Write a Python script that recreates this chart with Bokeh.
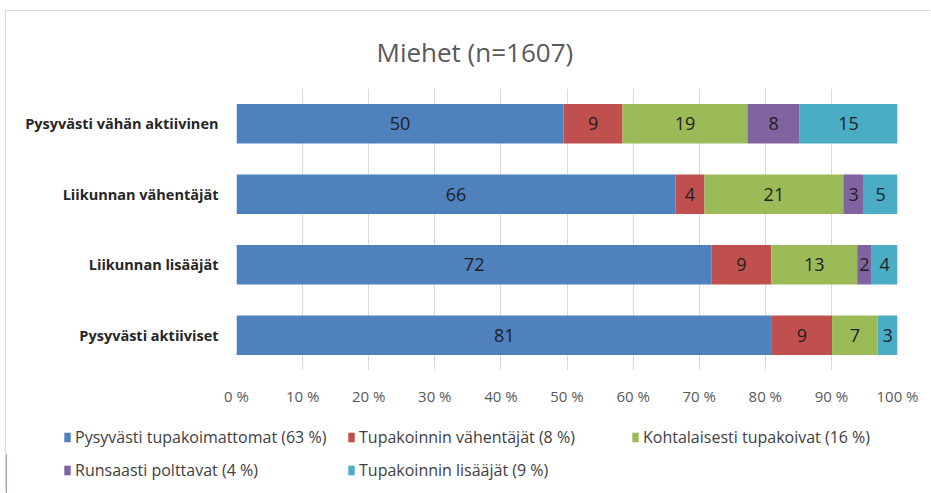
from bokeh.plotting import figure
from bokeh.layouts import column
from bokeh.models import FactorRange, Range1d, ColumnDataSource, Legend, LegendItem, FixedTicker
from bokeh.core.properties import value
from bokeh.embed import file_html
from bokeh.resources import INLINE

title_text = "Miehet (n=1607)"

# bottom-to-top order of rows
categories = ["Pysyvästi aktiiviset", "Liikunnan lisääjät",
              "Liikunnan vähentäjät", "Pysyvästi vähän aktiivinen"]

series_names = ["Pysyvästi tupakoimattomat (63 %)", "Tupakoinnin vähentäjät (8 %)",
                "Kohtalaisesti tupakoivat (16 %)", "Runsaasti polttavat (4 %)",
                "Tupakoinnin lisääjät (9 %)"]
series_colors = ["#4F81BD", "#C0504D", "#9BBB59", "#8064A2", "#4BACC6"]

nonsmokers = [81.0, 71.9, 66.4, 49.5]
reducers = [9.1, 9.0, 4.4, 8.9]
moderate = [6.9, 13.0, 21.0, 18.9]
heavy = [0.0, 2.2, 3.1, 7.9]
increasers = [3.0, 3.9, 5.1, 14.8]

ticks = [0, 10, 20, 30, 40, 50, 60, 70, 80, 90, 100]
tick_labels = ["0 %", "10 %", "20 %", "30 %", "40 %", "50 %", "60 %",
               "70 %", "80 %", "90 %", "100 %"]

FONT = "Open Sans"

keys = ["s0", "s1", "s2", "s3", "s4"]
series = [nonsmokers, reducers, moderate, heavy, increasers]
data = {"cat": categories}
for k, s in zip(keys, series):
    data[k] = s
source = ColumnDataSource(data)

p = figure(width=925, height=404, y_range=FactorRange(factors=categories),
           x_range=Range1d(0, 100), output_backend="svg", toolbar_location=None,
           min_border_left=230, min_border_right=34, min_border_top=77,
           min_border_bottom=45)

renderers = p.hbar_stack(keys, y="cat", height=0.56, color=series_colors,
                         source=source, line_color=None)

# data labels
lx, ly, lt = [], [], []
for i, cat in enumerate(categories):
    left = 0.0
    for s in series:
        v = s[i]
        if v >= 0.5:
            lx.append(left + v / 2)
            ly.append(cat)
            lt.append(str(int(round(v))))
        left += v
p.text(x=lx, y=ly, text=lt, text_align="center", text_baseline="middle",
       text_font=value(FONT), text_font_size="18px", text_color="#1f1f1f")

# title
p.title.text = title_text
p.title.text_font = FONT
p.title.text_font_size = "26px"
p.title.text_font_style = "normal"
p.title.text_color = "#595959"
p.title.align = "left"
p.title.offset = 140
p.title.standoff = 38

# axes
p.xaxis.ticker = FixedTicker(ticks=ticks)
p.xaxis.major_label_overrides = {t: l for t, l in zip(ticks, tick_labels)}
p.xaxis.axis_line_color = None
p.xaxis.major_tick_line_color = None
p.xaxis.minor_tick_line_color = None
p.xaxis.major_tick_out = 0
p.xaxis.major_label_standoff = 15
p.xaxis.major_label_text_font = FONT
p.xaxis.major_label_text_font_size = "15px"
p.xaxis.major_label_text_color = "#595959"

p.yaxis.axis_line_color = None
p.yaxis.major_tick_line_color = None
p.yaxis.major_tick_out = 0
p.yaxis.major_label_standoff = 18
p.yaxis.major_label_text_font = FONT
p.yaxis.major_label_text_font_size = "14.5px"
p.yaxis.major_label_text_font_style = "bold"
p.yaxis.major_label_text_color = "#262626"

p.xgrid.grid_line_color = "#d9d9d9"
p.ygrid.grid_line_color = None
p.outline_line_color = None

# legend panel (separate figure so the legend can sit left of the bar area)
p2 = figure(width=925, height=78, x_range=Range1d(0, 1), y_range=Range1d(0, 1),
            output_backend="svg", toolbar_location=None, min_border=0)
p2.axis.visible = False
p2.grid.grid_line_color = None
p2.outline_line_color = None
for fig in (p, p2):
    if "frame_align" in fig.properties():
        fig.frame_align = False
swatches = [p2.vbar(x=[-5], top=[0.5], width=0.1, color=c, line_color=None)
            for c in series_colors]
items = [LegendItem(label=n, renderers=[r]) for n, r in zip(series_names, swatches)]
legend = Legend(items=items, ncols=3, orientation="horizontal", location=(57, 12),
                label_width=261, glyph_width=8, glyph_height=12, spacing=11,
                label_standoff=4, padding=0, margin=0, border_line_color=None,
                background_fill_alpha=0, label_text_font=FONT,
                label_text_font_size="16px", label_text_color="#404040")
p2.add_layout(legend, "center")

layout = column(p, p2, spacing=0)
layout.styles = {"margin-left": "6px", "margin-top": "11px",
                 "box-shadow": "-1px -1px 0 0 #d9d9d9"}

open("out.html", "w").write(file_html(layout, INLINE))
